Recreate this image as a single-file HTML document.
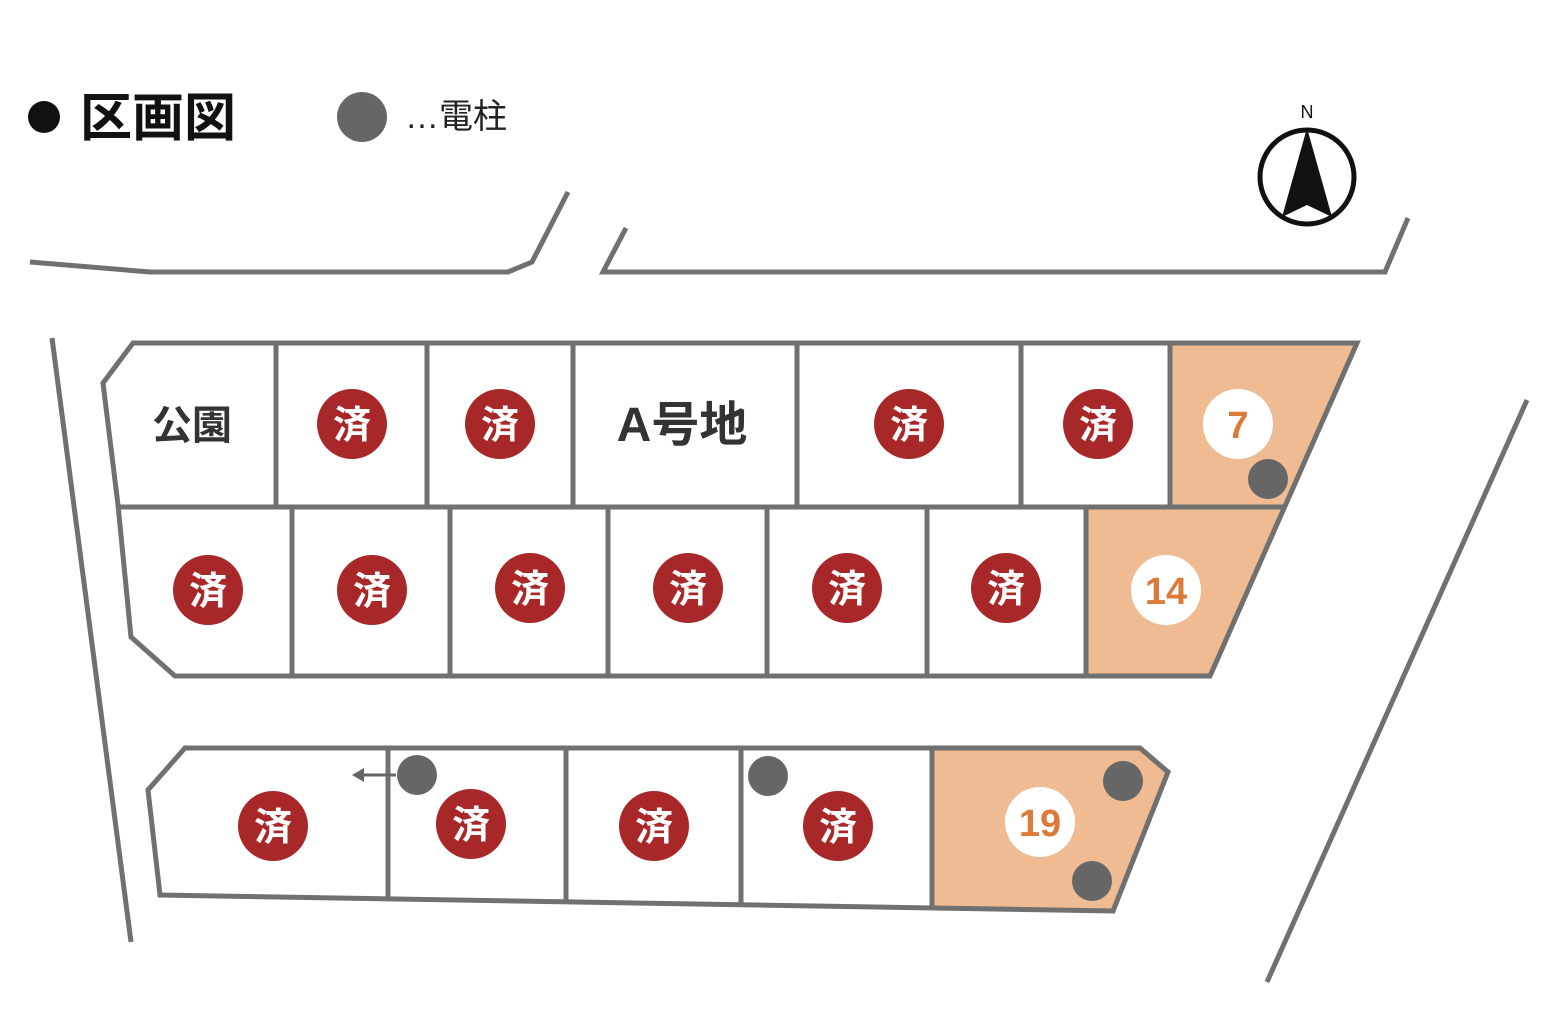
<!DOCTYPE html>
<html><head><meta charset="utf-8"><style>
html,body{margin:0;padding:0;background:#fff;width:1554px;height:1026px;overflow:hidden}
svg text{font-family:"Liberation Sans","Noto Sans CJK JP",sans-serif}
</style></head><body>
<svg width="1554" height="1026" viewBox="0 0 1554 1026" xmlns="http://www.w3.org/2000/svg">
<g fill="none" stroke="#707070" stroke-width="5" stroke-linejoin="miter">
<polyline points="30,262 150,272 508,272 532,262 568,192"/>
<polyline points="626,228 603,272 1385,272 1408,218"/>
<line x1="52" y1="338" x2="131" y2="942"/>
<line x1="1527" y1="400" x2="1267" y2="982"/>
</g>
<polygon points="1170,343 1357,343 1283,507 1170,507" fill="#EEBB92"/>
<polygon points="1086,507 1282,507 1210,676 1086,676" fill="#EEBB92"/>
<polygon points="932,748 1140,748 1168,772 1113,911 932,908" fill="#EEBB92"/>
<g fill="none" stroke="#707070" stroke-width="5">
<polygon points="133,343 1357,343 1210,676 175,676 131,637 118,505 103,383"/>
<line x1="118" y1="507" x2="1283" y2="507"/>
<line x1="276" y1="343" x2="276" y2="507"/>
<line x1="427" y1="343" x2="427" y2="507"/>
<line x1="573" y1="343" x2="573" y2="507"/>
<line x1="797" y1="343" x2="797" y2="507"/>
<line x1="1021" y1="343" x2="1021" y2="507"/>
<line x1="1170" y1="343" x2="1170" y2="507"/>
<line x1="292" y1="507" x2="292" y2="676"/>
<line x1="450" y1="507" x2="450" y2="676"/>
<line x1="608" y1="507" x2="608" y2="676"/>
<line x1="767" y1="507" x2="767" y2="676"/>
<line x1="927" y1="507" x2="927" y2="676"/>
<line x1="1086" y1="507" x2="1086" y2="676"/>
<polygon points="185,748 1140,748 1168,772 1113,911 160,895 148,790"/>
<line x1="388" y1="748" x2="388" y2="898"/>
<line x1="566" y1="748" x2="566" y2="901"/>
<line x1="741" y1="748" x2="741" y2="904"/>
<line x1="932" y1="748" x2="932" y2="908"/>
</g>
<g fill="#A8282A">
<circle cx="352" cy="424" r="35"/><circle cx="500" cy="424" r="35"/><circle cx="909" cy="424" r="35"/><circle cx="1098" cy="424" r="35"/>
<circle cx="208" cy="590" r="35"/><circle cx="372" cy="590" r="35"/><circle cx="530" cy="588" r="35"/><circle cx="688" cy="588" r="35"/><circle cx="847" cy="588" r="35"/><circle cx="1006" cy="588" r="35"/>
<circle cx="273" cy="826" r="35"/><circle cx="471" cy="824" r="35"/><circle cx="654" cy="826" r="35"/><circle cx="838" cy="826" r="35"/>
</g>
<g fill="#fff" font-size="38" font-weight="bold" text-anchor="middle">
<text x="352" y="438">済</text><text x="500" y="438">済</text><text x="909" y="438">済</text><text x="1098" y="438">済</text>
<text x="208" y="604">済</text><text x="372" y="604">済</text><text x="530" y="602">済</text><text x="688" y="602">済</text><text x="847" y="602">済</text><text x="1006" y="602">済</text>
<text x="273" y="840">済</text><text x="471" y="838">済</text><text x="654" y="840">済</text><text x="838" y="840">済</text>
</g>
<g fill="#fff"><circle cx="1238" cy="424" r="35"/><circle cx="1166" cy="590" r="35"/><circle cx="1040" cy="822" r="35"/></g>
<g fill="#DC7A3A" font-size="38" font-weight="bold" text-anchor="middle">
<text x="1238" y="438">7</text><text x="1166" y="604">14</text><text x="1040" y="836">19</text>
</g>
<g fill="#666"><circle cx="1268" cy="479" r="20"/><circle cx="417" cy="775" r="20"/><circle cx="768" cy="776" r="20"/><circle cx="1123" cy="781" r="20"/><circle cx="1092" cy="881" r="20"/><circle cx="362" cy="117" r="25"/></g>
<line x1="396" y1="775" x2="360" y2="775" stroke="#666" stroke-width="3"/>
<polygon points="352,775 364,768 364,782" fill="#666"/>
<text x="192" y="439" font-size="40" font-weight="bold" fill="#333" text-anchor="middle">公園</text>
<text x="682" y="441" font-size="48" font-weight="bold" fill="#333" text-anchor="middle">A号地</text>
<circle cx="44" cy="117" r="16" fill="#111"/>
<text x="80" y="136" font-size="52" font-weight="bold" fill="#111">区画図</text>
<text x="405" y="128" font-size="34" fill="#222">…電柱</text>
<circle cx="1307" cy="177" r="47" fill="none" stroke="#111" stroke-width="5"/>
<polygon points="1307,128 1282,217 1307,205 1332,217" fill="#111"/>
<text x="1307" y="118" font-size="18" fill="#111" text-anchor="middle">N</text>
</svg>
</body></html>
